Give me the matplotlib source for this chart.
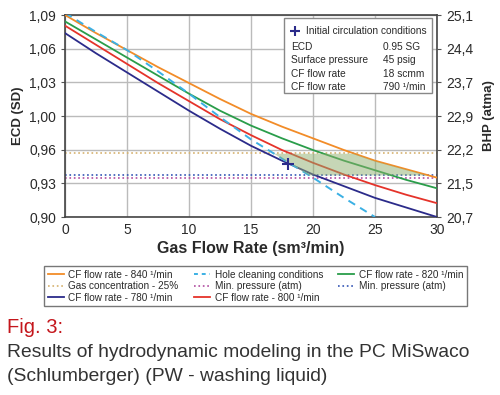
import numpy as np
import matplotlib
matplotlib.use('Agg')
import matplotlib.pyplot as plt
from matplotlib.lines import Line2D

plt.rcParams['font.family'] = ['Liberation Sans', 'DejaVu Sans']

#%% Data
gas_rate = [0, 2.5, 5, 7.5, 10, 12.5, 15, 17.5, 20, 22.5, 25, 27.5, 30]
ecd_840 = [1.090, 1.073, 1.057, 1.041, 1.026, 1.011, 0.997, 0.985, 0.974, 0.963, 0.953, 0.945, 0.937]
ecd_820 = [1.084, 1.067, 1.050, 1.033, 1.016, 1.000, 0.986, 0.974, 0.963, 0.953, 0.944, 0.935, 0.927]
ecd_800 = [1.080, 1.062, 1.044, 1.026, 1.009, 0.992, 0.977, 0.963, 0.951, 0.940, 0.930, 0.921, 0.913]
ecd_780 = [1.073, 1.054, 1.036, 1.018, 1.000, 0.983, 0.967, 0.953, 0.940, 0.929, 0.918, 0.909, 0.900]

hole_rate = [0, 2.5, 5, 7.5, 10, 12.5, 15, 17.5, 20, 22.5, 25]
hole_ecd = [1.092, 1.074, 1.057, 1.037, 1.016, 0.994, 0.973, 0.955, 0.937, 0.918, 0.900]

gas_conc = 0.960
min_p_purple = 0.937
min_p_blue = 0.9396
init_point = (18, 0.950)

left_labels = ['0,90', '0,93', '0,96', '1,00', '1,03', '1,06', '1,09']
right_labels = ['20,7', '21,5', '22,2', '22,9', '23,7', '24,4', '25,1']
x_ticks = [0, 5, 10, 15, 20, 25, 30]

info_rows = [('ECD', '0.95 SG'), ('Surface pressure', '45 psig'),
             ('CF flow rate', '18 scmm'), ('CF flow rate', '790 \u00b9/min')]

c_orange = '#f28c28'
c_green = '#2a9d4a'
c_red = '#e5332a'
c_navy = '#2b2b8a'
c_cyan = '#3bb0e4'
c_tan = '#d6b26e'
c_purple = '#b04ca0'
c_blue = '#3355b5'
c_text = '#2a2a2a'

#%% Figure
fig = plt.figure(figsize=(5, 3.95), dpi=100)
ax = fig.add_axes([0.13, 0.4506, 0.744, 0.5114])

ax.plot(gas_rate, ecd_840, color=c_orange, lw=1.3, zorder=3)
ax.plot(gas_rate, ecd_820, color=c_green, lw=1.3, zorder=3)
ax.plot(gas_rate, ecd_800, color=c_red, lw=1.3, zorder=3)
ax.plot(gas_rate, ecd_780, color=c_navy, lw=1.3, zorder=3)
ax.plot(hole_rate, hole_ecd, color=c_cyan, lw=1.4, ls=(0, (4, 3)), zorder=3)
ax.axhline(gas_conc, color=c_tan, lw=1.2, ls=':', zorder=2)
ax.axhline(min_p_purple, color=c_purple, lw=1.2, ls=':', zorder=2)
ax.axhline(min_p_blue, color=c_blue, lw=1.2, ls=':', zorder=2)

# operating window
xx = np.linspace(0, 30, 600)
upper = np.minimum(gas_conc, np.interp(xx, gas_rate, ecd_840))
lower = np.maximum(min_p_blue, np.interp(xx, hole_rate, hole_ecd, right=0))
ax.fill_between(xx, lower, upper, where=upper > lower, color='#8fae6e',
                alpha=0.5, lw=0, zorder=4)

ax.plot(*init_point, marker='+', color=c_navy, ms=8, mew=1.5, zorder=5)

yticks = np.linspace(0.90, 1.09, 7)
ax.set_xlim(0, 30)
ax.set_ylim(0.90, 1.09)
ax.set_xticks(x_ticks)
ax.set_yticks(yticks)
ax.set_yticklabels(left_labels)
ax.tick_params(axis='x', length=0, labelsize=10, pad=4, labelcolor=c_text)
ax.tick_params(axis='y', length=3, labelsize=10, color='#555555', labelcolor=c_text)
ax.grid(True, color='#bbbbbb', lw=1.0)
ax.set_axisbelow(True)
for s in ax.spines.values():
    s.set_color('#444444')
    s.set_linewidth(1.2)
ax.set_xlabel('Gas Flow Rate (sm\u00b3/min)', fontsize=11.5, fontweight='bold',
              labelpad=3, color=c_text)
ax.set_ylabel('ECD (SD)', fontsize=9.5, fontweight='bold', labelpad=4, color=c_text)

ax2 = ax.twinx()
ax2.set_ylim(0.90, 1.09)
ax2.set_yticks(yticks)
ax2.set_yticklabels(right_labels)
ax2.tick_params(axis='y', length=3, labelsize=10, color='#555555', labelcolor=c_text)
for s in ax2.spines.values():
    s.set_visible(False)
ax2.set_ylabel('BHP (atma)', fontsize=9.5, fontweight='bold', labelpad=7, color=c_text)

# info box
bx, by, bw, bh = 0.588, 0.615, 0.398, 0.37
ax.add_patch(plt.Rectangle((bx, by), bw, bh, transform=ax.transAxes,
                           facecolor='white', edgecolor='#888888', lw=1.0, zorder=6))
ax.plot(bx + 0.03, by + bh - 0.065, marker='+', color=c_navy, ms=7, mew=1.5,
        transform=ax.transAxes, zorder=7, clip_on=False)
ax.text(bx + 0.06, by + bh - 0.065, 'Initial circulation conditions', transform=ax.transAxes,
        fontsize=7.3, va='center', color=c_text, zorder=7)
for i, (k, v) in enumerate(info_rows):
    yy = by + bh - 0.145 - i * 0.065
    ax.text(bx + 0.02, yy, k, transform=ax.transAxes, fontsize=7.3, va='center',
            color=c_text, zorder=7)
    ax.text(bx + 0.268, yy, v, transform=ax.transAxes, fontsize=7.3, va='center',
            color=c_text, zorder=7)

# legend
handles = [
    Line2D([], [], color=c_orange, lw=1.3),
    Line2D([], [], color=c_tan, lw=1.2, ls=':'),
    Line2D([], [], color=c_navy, lw=1.3),
    Line2D([], [], color=c_cyan, lw=1.4, ls=(0, (2, 2))),
    Line2D([], [], color=c_purple, lw=1.2, ls=':'),
    Line2D([], [], color=c_red, lw=1.3),
    Line2D([], [], color=c_green, lw=1.3),
    Line2D([], [], color=c_blue, lw=1.2, ls=':'),
]
labels = ['CF flow rate - 840 \u00b9/min', 'Gas concentration - 25%', 'CF flow rate - 780 \u00b9/min',
          'Hole cleaning conditions', 'Min. pressure (atm)', 'CF flow rate - 800 \u00b9/min',
          'CF flow rate - 820 \u00b9/min', 'Min. pressure (atm)']
leg = fig.legend(handles, labels, ncol=3, loc='upper left', bbox_to_anchor=(0.078, 0.338),
                 fontsize=7.2, frameon=True, fancybox=False, edgecolor='#555555',
                 handlelength=1.6, handletextpad=0.5, columnspacing=1.5,
                 labelspacing=0.15, borderpad=0.35, labelcolor=c_text)
leg.get_frame().set_linewidth(1.0)

fig.text(0.014, 0.172, 'Fig. 3:', color='#c4161c', fontsize=14.5, va='center')
fig.text(0.014, 0.108, 'Results of hydrodynamic modeling in the PC MiSwaco',
         color='#333333', fontsize=13.9, va='center')
fig.text(0.014, 0.047, '(Schlumberger) (PW - washing liquid)',
         color='#333333', fontsize=13.9, va='center')

fig.savefig('out.png', dpi=100)
